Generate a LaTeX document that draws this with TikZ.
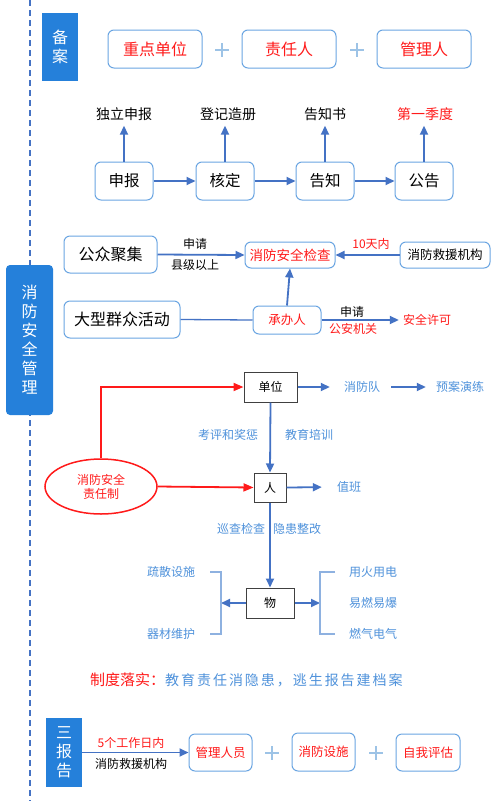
\documentclass[tikz,border=0pt]{standalone}
\usepackage{fontspec}
\setmainfont{Noto Sans CJK SC}
\newfontfamily\spacedfont[LetterSpace=14]{Noto Sans CJK SC}
\usetikzlibrary{arrows.meta,shapes.geometric}
\definecolor{sideblue}{HTML}{2580DA}
\definecolor{boxline}{HTML}{6AA5E2}
\definecolor{arrowblue}{HTML}{4472C4}
\definecolor{lightblue}{HTML}{4F92DB}
\definecolor{plusblue}{HTML}{9DC3E6}
\definecolor{bracketblue}{HTML}{8EB1E0}
\definecolor{myred}{HTML}{FF1A1A}
\newcommand{\fs}[1]{\fontsize{#1}{#1}\selectfont}
\begin{document}
\begin{tikzpicture}[x=1pt,y=-1pt,
  side/.style={fill=sideblue, text=white, font=\fontsize{16}{19}\selectfont, align=center, inner sep=0pt},
  rbox/.style={draw=boxline, line width=1pt, rounded corners=6pt, fill=white, inner sep=0pt},
  sbox/.style={draw=black!75, line width=1pt, fill=white, inner sep=0pt, font=\fs{12}},
  arr/.style={draw=arrowblue, line width=1.8pt, -{Triangle[length=9pt,width=8pt]}},
  redarr/.style={draw=myred, line width=1.8pt, -{Triangle[length=10pt,width=8pt]}},
  lbl/.style={inner sep=0pt, font=\fs{12}},
  lb/.style={lbl, text=lightblue},
  plusline/.style={draw=plusblue, line width=1.2pt},
  bracket/.style={draw=bracketblue, line width=1.5pt}
]
\useasboundingbox (0,0) rectangle (503,801);
\fill[white] (0,0) rectangle (503,801);

% dashed guide line
\coordinate (dtop) at (30,0);
\coordinate (dbot) at (30,801);
\draw[arrowblue, line width=1.5pt, dash pattern=on 6pt off 4pt] (dtop) -- (dbot);

% ===== 备案 =====
\node[side, minimum width=36pt, minimum height=68pt] (beian) at (60,47) {备\\案};
\node[rbox, minimum width=94pt, minimum height=38pt, text=myred, font=\fs{16}] (zd) at (155,49) {重点单位};
\node[rbox, minimum width=94pt, minimum height=38pt, text=myred, font=\fs{16}] (zr) at (289,49) {责任人};
\node[rbox, minimum width=94pt, minimum height=38pt, text=myred, font=\fs{16}] (gl) at (424,49) {管理人};
\draw[plusline] (222,43) -- (222,57) (215,50) -- (229,50);
\draw[plusline] (357,43) -- (357,57) (350,50) -- (364,50);

% flow
\node[rbox, minimum width=58pt, minimum height=38pt, font=\fs{15.5}] (sb) at (124,181) {申报};
\node[rbox, minimum width=58pt, minimum height=38pt, font=\fs{15.5}] (hd) at (225,181) {核定};
\node[rbox, minimum width=58pt, minimum height=38pt, font=\fs{15.5}] (gz) at (325,181) {告知};
\node[rbox, minimum width=58pt, minimum height=38pt, font=\fs{15.5}] (gg) at (424,181) {公告};
\node[lbl, font=\fs{14}] (l1) at (124,114) {独立申报};
\node[lbl, font=\fs{14}] (l2) at (228,114) {登记造册};
\node[lbl, font=\fs{14}] (l3) at (325,114) {告知书};
\node[lbl, font=\fs{14}, text=myred] (l4) at (425,114) {第一季度};
\draw[arr] (sb.east) -- (hd.west);
\draw[arr] (hd.east) -- (gz.west);
\draw[arr] (gz.east) -- (gg.west);
\draw[arr, shorten >=5pt] (sb.north) -- (sb.north |- l1.south);
\draw[arr, shorten >=5pt] (hd.north) -- (hd.north |- l2.south);
\draw[arr, shorten >=5pt] (gz.north) -- (gz.north |- l3.south);
\draw[arr, shorten >=5pt] (gg.north) -- (gg.north |- l4.south);

% ===== 消防安全管理 =====
\node[side, rounded corners=4pt, minimum width=47pt, minimum height=150pt] (xfgl) at (29.5,340) {消\\防\\安\\全\\管\\理};

\node[rbox, minimum width=93pt, minimum height=37pt, font=\fs{16}] (gzjj) at (110.5,254.5) {公众聚集};
\node[rbox, minimum width=90pt, minimum height=26pt, font=\fs{13.5}, text=myred] (jc) at (290,255) {消防安全检查};
\node[rbox, minimum width=90pt, minimum height=26pt, font=\fs{12.5}] (jy) at (445,255) {消防救援机构};
\node[rbox, minimum width=116pt, minimum height=37pt, font=\fs{16}] (dx) at (122,319.5) {大型群众活动};
\node[rbox, minimum width=68pt, minimum height=28pt, font=\fs{12.5}, text=myred] (cb) at (287,320) {承办人};
\node[lbl, text=myred] (aqxk) at (427,320) {安全许可};
\draw[arr] (gzjj.east) -- (jc.west);
\draw[arr] (jy.west) -- (jc.east);
\draw[arr] (cb.north) -- (jc.south);
\draw[draw=arrowblue, line width=1.3pt] (dx.east) -- (cb.west);
\draw[arr, shorten >=4pt] (cb.east) -- (aqxk.west);
\node[lbl] (sq1) at (195,244) {申请};
\node[lbl] (xj) at (195,265) {县级以上};
\node[lbl, text=myred] (t10) at (371,244) {10天内};
\node[lbl] (sq2) at (352,312) {申请};
\node[lbl, text=myred] (ga) at (353,329) {公安机关};

% 单位 / 人 / 物
\node[sbox, minimum width=53pt, minimum height=30pt] (dw) at (270.5,387) {单位};
\node[lb] (xfd) at (362,387) {消防队};
\node[lb] (yaly) at (460,387) {预案演练};
\draw[arr, shorten >=14pt] (dw.east) -- (xfd.west);
\draw[arr, shorten <=11pt, shorten >=10pt] (xfd.east) -- (yaly.west);

\node[ellipse, draw=myred, line width=1.5pt, minimum width=112pt, minimum height=55pt, inner sep=0pt, align=center, text=myred, font=\fontsize{12}{14}\selectfont] (zrz) at (101,486.5) {消防安全\\责任制};
\node[sbox, minimum width=32pt, minimum height=29pt] (ren) at (270,487.5) {人};
\node[lb] (zb) at (349,487) {值班};
\draw[arr, shorten >=15pt] (ren.east) -- (zb.west);
\draw[redarr] (zrz.north) |- (dw.west);
\draw[redarr] (zrz.east) -- (ren.west);
\draw[arr] (dw.south) -- (ren.north);
\node[lb] (kp) at (228,435) {考评和奖惩};
\node[lb] (jy2) at (309,435) {教育培训};

\node[sbox, minimum width=48pt, minimum height=30pt] (wu) at (270,603) {物};
\draw[arr] (ren.south) -- (wu.north);
\node[lb] (xc) at (241,529) {巡查检查};
\node[lb] (yh) at (297,529) {隐患整改};

\coordinate (bl) at (221,603);
\coordinate (br) at (320,603);
\draw[arr] (wu.west) -- (bl);
\draw[arr] (wu.east) -- (br);
\draw[bracket] (210,572) -- (221,572) -- (221,634) -- (210,634);
\draw[bracket] (335,572) -- (320,572) -- (320,634) -- (335,634);
\node[lb] (ss) at (171,572) {疏散设施};
\node[lb] (qc) at (171,634) {器材维护};
\node[lb] (yhyd) at (373,572) {用火用电};
\node[lb] (yr) at (373,603) {易燃易爆};
\node[lb] (rq) at (373,634) {燃气电气};

% slogan
\node[inner sep=0pt, anchor=west, font=\fs{15}] (slogan) at (90,680) {{\color{myred}制度落实：}{\spacedfont\fs{14}\color{lightblue}教育责任消隐患，逃生报告建档案}};

% ===== 三报告 =====
\node[side, minimum width=36pt, minimum height=69pt] (sbg) at (64,752.5) {三\\报\\告};
\node[rbox, minimum width=63pt, minimum height=37pt, text=myred, font=\fs{12.5}] (glry) at (220.5,752.5) {管理人员};
\node[rbox, minimum width=63pt, minimum height=38pt, text=myred, font=\fs{12.5}] (xfss) at (323.5,752) {消防设施};
\node[rbox, minimum width=64pt, minimum height=37pt, text=myred, font=\fs{12.5}] (zwpg) at (428,752.5) {自我评估};
\draw[arr] (sbg.east |- glry.west) -- (glry.west);
\node[lbl, text=myred] (wg) at (131,743) {5个工作日内};
\node[lbl] (jyjg) at (131,764) {消防救援机构};
\draw[plusline] (272,746) -- (272,760) (265,753) -- (279,753);
\draw[plusline] (376,746) -- (376,760) (369,753) -- (383,753);
\end{tikzpicture}
\end{document}
